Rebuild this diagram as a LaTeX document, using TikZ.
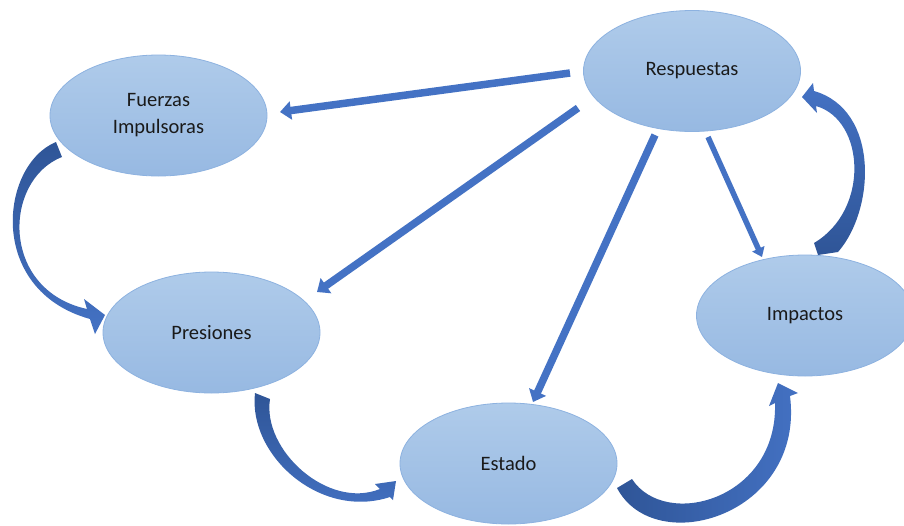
\documentclass[tikz,border=0pt]{standalone}
\usepackage{fontspec}
\setmainfont{Carlito}
\usetikzlibrary{shapes.geometric,arrows.meta,calc}

\definecolor{ovalTop}{HTML}{AFCBEA}
\definecolor{ovalBot}{HTML}{97B9E2}
\definecolor{ovalRim}{HTML}{8DB2E0}
\definecolor{arrowBlue}{HTML}{4472C4}
\definecolor{arrowDark}{HTML}{2F5597}
\definecolor{labelInk}{HTML}{1A1A1A}

\tikzset{
  oval/.style={ellipse, minimum width=217pt, minimum height=121pt, inner sep=0pt,
    top color=ovalTop, bottom color=ovalBot, draw=ovalRim, line width=0.8pt,
    text=labelInk, font=\fontsize{20.5}{27}\selectfont, align=center},
  link/.style={draw=arrowBlue, line width=7.5pt, -{Triangle[width=18pt,length=11pt]}},
  thinlink/.style={draw=arrowBlue, line width=5.5pt, -{Triangle[width=13pt,length=9pt]}},
  sweepdown/.style={top color=arrowDark, bottom color=arrowBlue},
  sweepright/.style={left color=arrowDark, right color=arrowBlue},
  sweepup/.style={top color=arrowBlue, bottom color=arrowDark}
}

\begin{document}
\begin{tikzpicture}[x=1pt,y=-1pt]
  \fill[white] (0,0) rectangle (904,525);
  \clip (0,0) rectangle (904,525);

  % the five stages of the cycle
  \node[oval] (fuer) at (158.5,115.5) {Fuerzas\\Impulsoras};
  \node[oval] (resp) at (692,71) {Respuestas};
  \node[oval] (pres) at (211.5,332.5) {Presiones};
  \node[oval] (est)  at (508.5,463.5) {Estado};
  \node[oval] (imp)  at (805,315.5) {Impactos};

  % straight links leaving Respuestas
  \draw[link] ($(resp)+(-122,2)$) -- ($(fuer)+(121.5,-3.5)$);
  \draw[link] ($(resp)+(-114,37)$) -- ($(pres)+(105.5,-40.5)$);
  \draw[link] ($(resp)+(-37,64)$) -- ($(est)+(24.5,-61.5)$);
  \draw[thinlink] ($(resp)+(16,66)$) -- ($(imp)+(-43,-58.5)$);

  % curved block arrows around the cycle
  % Fuerzas Impulsoras -> Presiones
  \shade[sweepdown]
    (56,142) .. controls (0,165) and (-14,290) .. (90,319)
    -- (95,334) -- (105,315) -- (84,299) -- (87,309)
    .. controls (0,290) and (3,180) .. (62,157) -- cycle;
  % Presiones -> Estado
  \shade[sweepdown]
    (255,393) .. controls (248,455) and (320,520) .. (390,497)
    -- (393,500) -- (396,481) -- (375,484) -- (380,489)
    .. controls (328,510) and (262,450) .. (270,399) -- cycle;
  % Estado -> Impactos
  \shade[sweepright]
    (617,488) .. controls (655,560) and (805,515) .. (790,396)
    -- (798,393) -- (778,383) -- (769,406) -- (775,403)
    .. controls (778,500) and (665,530) .. (632,479) -- cycle;
  % Impactos -> Respuestas
  \shade[sweepup]
    (838,252) .. controls (875,210) and (880,110) .. (814,91)
    -- (813,83) -- (802,97) -- (817,113) -- (816,106)
    .. controls (865,120) and (870,210) .. (814,243) -- (818,255) -- cycle;
\end{tikzpicture}
\end{document}
